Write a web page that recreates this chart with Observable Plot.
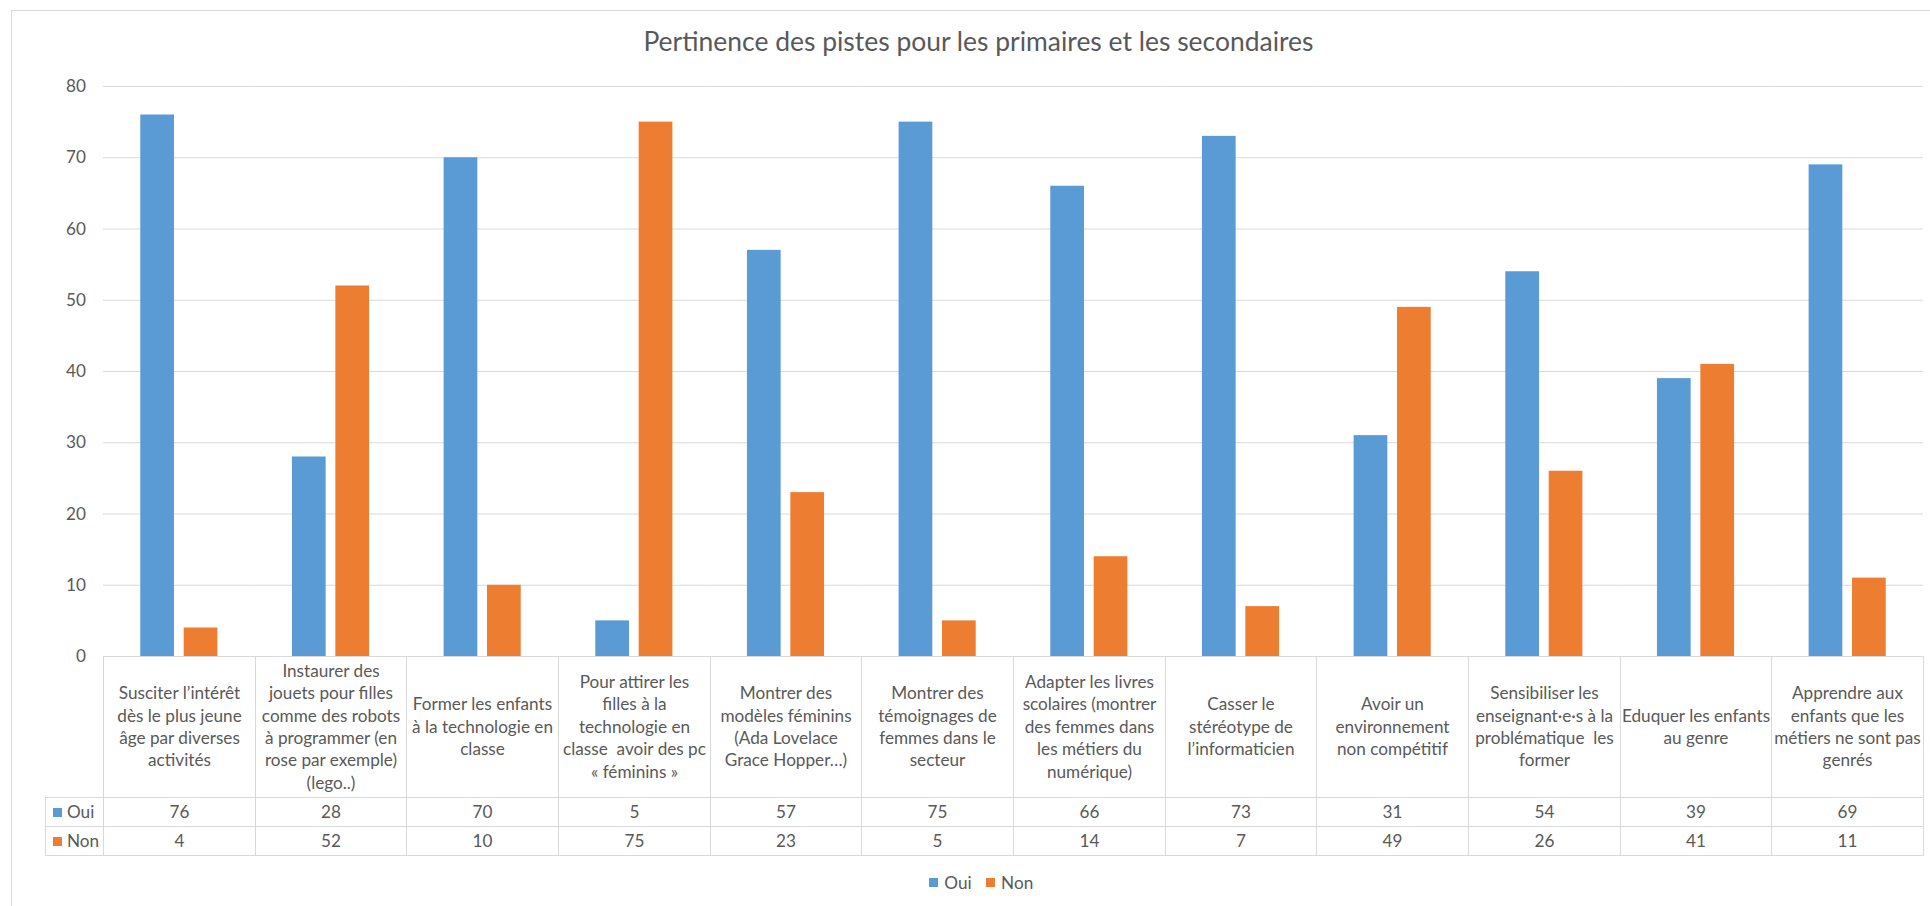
<!DOCTYPE html>
<html>
<head>
<meta charset="utf-8">
<script src="https://cdn.jsdelivr.net/npm/d3@7"></script>
<script src="https://cdn.jsdelivr.net/npm/@observablehq/plot@0.6"></script>
<style>
  html, body { margin: 0; padding: 0; background: #fff; }
  body { width: 1930px; height: 906px; position: relative; overflow: hidden; color: #595959; font-family: Lato, "Open Sans", sans-serif; }
  #frame { position: absolute; left: 11px; top: 10px; width: 1960px; height: 930px; border: 1px solid #d9d9d9; box-sizing: border-box; }
  #title { position: absolute; left: 0; width: 1957px; text-align: center; white-space: nowrap; line-height: 1.2; }
  #chart { position: absolute; left: 0; top: 0; }
  #table { position: absolute; left: 0; top: 0; }
  .cell { position: absolute; box-sizing: border-box; display: flex; align-items: center; justify-content: center; text-align: center; white-space: pre; border-color: #d9d9d9; border-style: solid; border-width: 0; }
  .key { display: inline-block; width: 9px; height: 9px; margin-right: 5px; }
  #legend { position: absolute; left: 0; width: 1962px; display: flex; justify-content: center; align-items: center; }
  #legend span.item { display: inline-flex; align-items: center; margin: 0 7px; }
</style>
</head>
<body>
<div id="frame"></div>
<div id="title"></div>
<div id="chart"></div>
<div id="table"></div>
<div id="legend"></div>
<script>
const title = "Pertinence des pistes pour les primaires et les secondaires";
const categories = [
  "Susciter l’intérêt\ndès le plus jeune\nâge par diverses\nactivités",
  "Instaurer des\njouets pour filles\ncomme des robots\nà programmer (en\nrose par exemple)\n(lego..)",
  "Former les enfants\nà la technologie en\nclasse",
  "Pour attirer les\nfilles à la\ntechnologie en\nclasse  avoir des pc\n« féminins »",
  "Montrer des\nmodèles féminins\n(Ada Lovelace\nGrace Hopper…)",
  "Montrer des\ntémoignages de\nfemmes dans le\nsecteur",
  "Adapter les livres\nscolaires (montrer\ndes femmes dans\nles métiers du\nnumérique)",
  "Casser le\nstéréotype de\nl’informaticien",
  "Avoir un\nenvironnement\nnon compétitif",
  "Sensibiliser les\nenseignant·e·s à la\nproblématique  les\nformer",
  "Eduquer les enfants\nau genre",
  "Apprendre aux\nenfants que les\nmétiers ne sont pas\ngenrés"
];
const oui = [76, 28, 70, 5, 57, 75, 66, 73, 31, 54, 39, 69];
const non = [4, 52, 10, 75, 23, 5, 14, 7, 49, 26, 41, 11];
const seriesNames = ["Oui", "Non"];
const seriesColors = ["#5B9BD5", "#ED7D31"];
const yTicks = [0, 10, 20, 30, 40, 50, 60, 70, 80];

const FAMILY = 'Lato, "Open Sans", sans-serif';
function fitSize(text, target) {
  const ctx = document.createElement("canvas").getContext("2d");
  ctx.font = "100px " + FAMILY;
  return 100 * target / ctx.measureText(text).width;
}
const bodySize = fitSize("comme des robots", 138.4);
const titleSize = fitSize(title, 671);

const values = {Oui: oui, Non: non};
const data = categories.flatMap((c, i) => seriesNames.map(s => ({cat: c, serie: s, value: values[s][i]})));

const chart = Plot.plot({
  width: 1930,
  height: 660,
  marginLeft: 103,
  marginRight: 7,
  marginTop: 86,
  marginBottom: 4,
  style: {fontFamily: FAMILY, fontSize: bodySize + "px", color: "#595959", background: "transparent", overflow: "visible"},
  fx: {domain: categories, padding: 0, round: false, axis: null},
  x: {domain: seriesNames, paddingInner: 0.2235, paddingOuter: 0.859, round: false, axis: null},
  y: {domain: [0, 80], ticks: yTicks, tickSize: 0, tickPadding: 17.6, label: null},
  color: {domain: seriesNames, range: seriesColors},
  marks: [
    Plot.gridY(yTicks, {stroke: "#d9d9d9", strokeOpacity: 1, strokeWidth: 1.2}),
    Plot.barY(data, {fx: "cat", x: "serie", y: "value", fill: "serie"})
  ]
});
document.getElementById("chart").appendChild(chart);

// Title
const titleEl = document.getElementById("title");
titleEl.textContent = title;
titleEl.style.fontSize = titleSize + "px";
titleEl.style.top = (52.7 - 0.987 * titleSize - 0.5) + "px";

// Data table under the plot, aligned on the fx scale (crisp integer grid)
const fx = chart.scale("fx");
const y = chart.scale("y");
const bw = fx.bandwidth;
const top0 = Math.round(y.apply(0));
const keyW = 57.6;
const hHead = 141, hRow = 29;
const rowTops = [top0, top0 + hHead, top0 + hHead + hRow, top0 + hHead + 2 * hRow];
const tbl = document.getElementById("table");
function addCell(x0, x1, r, content, opts = {}) {
  const d = document.createElement("div");
  d.className = "cell";
  const yy = rowTops[r], h = rowTops[r + 1] - yy;
  d.style.left = x0 + "px"; d.style.top = yy + "px";
  d.style.width = (x1 - x0 + 1) + "px"; d.style.height = (h + 1) + "px";
  d.style.borderWidth = "1px";
  d.style.fontSize = bodySize + "px";
  d.style.lineHeight = "22.4px";
  if (opts.style) Object.assign(d.style, opts.style);
  if (typeof content === "string") d.textContent = content; else d.appendChild(content);
  tbl.appendChild(d);
}
categories.forEach((c, i) => {
  const x0 = Math.round(fx.apply(c));
  const x1 = Math.round(fx.apply(c) + bw);
  addCell(x0, x1, 0, c);
  addCell(x0, x1, 1, String(oui[i]));
  addCell(x0, x1, 2, String(non[i]));
});
const xKey1 = Math.round(fx.apply(categories[0]));
const xKey0 = Math.round(xKey1 - keyW);
seriesNames.forEach((s, k) => {
  const wrap = document.createElement("span");
  wrap.style.display = "inline-flex"; wrap.style.alignItems = "center";
  const sq = document.createElement("span"); sq.className = "key"; sq.style.background = seriesColors[k];
  wrap.appendChild(sq); wrap.appendChild(document.createTextNode(s));
  addCell(xKey0, xKey1, 1 + k, wrap, {style: {justifyContent: "flex-start", paddingLeft: "7px"}});
});

// Legend
const leg = document.getElementById("legend");
leg.style.top = (882.7 - 15) + "px"; leg.style.height = "30px";
leg.style.fontSize = bodySize + "px";
seriesNames.forEach((s, k) => {
  const it = document.createElement("span"); it.className = "item";
  const sq = document.createElement("span"); sq.className = "key"; sq.style.background = seriesColors[k];
  sq.style.width = "9.5px"; sq.style.height = "9.5px"; sq.style.marginRight = "6px";
  it.appendChild(sq); it.appendChild(document.createTextNode(s));
  leg.appendChild(it);
});
</script>
</body>
</html>
